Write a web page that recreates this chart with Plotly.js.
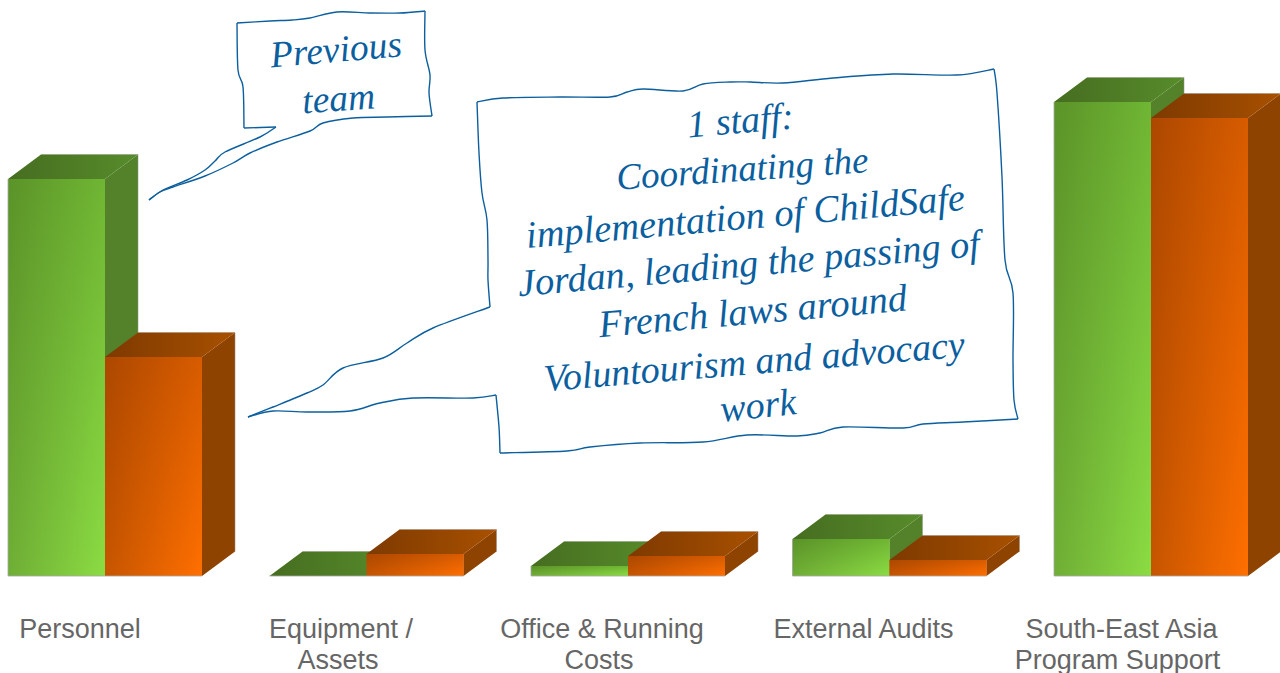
<!DOCTYPE html>
<html>
<head>
<meta charset="utf-8">
<script src="https://cdn.plot.ly/plotly-3.0.1.min.js"></script>
<style>html,body{margin:0;padding:0;background:#fff}#chart{width:1280px;height:673px}</style>
</head>
<body>
<div id="chart"></div>
<script>
// ---- data (heights) ----
const categories = ["Personnel", "Equipment /", "Office & Running", "External Audits", "South-East Asia"];
const categoriesLine2 = ["", "Assets", "Costs", "", "Program Support"];
const previousTeam = [397, 0, 10, 37, 474];
const currentTeam = [219, 22, 20, 16, 458];
const labelOffsets = [-0.0956, -0.0975, -0.0994, -0.0994, -0.113];
const labelOffsetsLine2 = [-0.0956, -0.1090, -0.1109, -0.0994, -0.128];

// ---- geometry of the fake 3D ----
const PX = 261.5, LEFT = 105, BAR = 97 / PX, DX = 33 / PX, DY = 24.5;
const PLOT_H = 610;
const idx = categories.map((_, i) => i);

const green = {base: "#79b83a", left: "#6fae35", right: "#8bdc43", topL: "#466d20", topR: "#578c2b", side: "#54822b", shade: "rgba(25,60,0,0.24)", clear: "rgba(25,60,0,0)", edge: "#8f9a85"};
const orange = {base: "#d95f00", left: "#c65500", right: "#ff6f00", topL: "#7e3a00", topR: "#a85000", side: "#8f4300", shade: "rgba(90,30,0,0.24)", clear: "rgba(90,30,0,0)", edge: "#a08c7c"};

const traces = [];
// real bars, through the library's scales
traces.push({type: "bar", name: "Previous", x: idx, y: previousTeam, width: BAR, marker: {color: green.base, line: {width: 0}}});
traces.push({type: "bar", name: "Current", x: idx, y: currentTeam, width: BAR, marker: {color: orange.base, line: {width: 0}}});

function poly(x, y, extra) {
  return Object.assign({type: "scatter", mode: "lines", x, y, fill: "toself", line: {width: 0}, hoverinfo: "skip", showlegend: false}, extra);
}
function addBar(i, h, side, c) {
  const x0 = i + (side < 0 ? -BAR : 0), x1 = x0 + BAR;
  // side face
  if (h > 0) traces.push(poly([x1, x1 + DX, x1 + DX, x1, x1], [0, DY, h + DY, h, 0], {fillcolor: c.side}));
  // top face
  traces.push(poly([x0, x0 + DX, x1 + DX, x1, x0], [h, h + DY, h + DY, h, h], {
    fillgradient: {type: "horizontal", colorscale: [[0, c.topL], [1, c.topR]], start: x0, stop: x1 + DX}
  }));
  // front face: horizontal light sweep plus a vertical shade
  if (h > 0) {
    traces.push(poly([x0, x1, x1, x0, x0], [0, 0, h, h, 0], {
      fillgradient: {type: "horizontal", colorscale: [[0, c.left], [1, c.right]], start: x0, stop: x1}
    }));
    traces.push(poly([x0, x1, x1, x0, x0], [0, 0, h, h, 0], {
      fillgradient: {type: "vertical", colorscale: [[0, c.shade], [1, c.clear]], start: h, stop: 0}
    }));
  }
  // thin grey rim along the back edge
  traces.push({type: "scatter", mode: "lines", x: [x0 + DX, x1 + DX, x1 + DX], y: [h + DY, h + DY, DY], line: {width: 1, color: c.edge}, opacity: 0.55, hoverinfo: "skip", showlegend: false});
}
idx.forEach(i => {
  addBar(i, previousTeam[i], -1, green);
  addBar(i, currentTeam[i], 1, orange);
  traces.push({type: "scatter", mode: "lines",
    x: [i - BAR, i - BAR, null, i - BAR, i + BAR], y: [previousTeam[i], 0, null, 0, 0],
    line: {width: 1, color: "#a8a8a8"}, opacity: 0.8, hoverinfo: "skip", showlegend: false});
});
// carrier for the axis holding the second line of the category labels
traces.push({type: "scatter", mode: "none", x: idx, y: currentTeam, xaxis: "x2", hoverinfo: "skip", showlegend: false});

// ---- hand-drawn callouts ----
function smooth(points) {
  let d = "";
  const P = points.map(p => [p[0] / 1280, 1 - p[1] / PLOT_H]);
  for (let i = 0; i < P.length - 1; i++) {
    const p0 = P[Math.max(i - 1, 0)], p1 = P[i], p2 = P[i + 1], p3 = P[Math.min(i + 2, P.length - 1)];
    const c1 = [p1[0] + (p2[0] - p0[0]) / 6, p1[1] + (p2[1] - p0[1]) / 6];
    const c2 = [p2[0] - (p3[0] - p1[0]) / 6, p2[1] - (p3[1] - p1[1]) / 6];
    d += (i === 0 ? "M" + p1[0] + "," + p1[1] : "") + " C" + c1 + " " + c2 + " " + p2;
  }
  return d;
}
const ink = "#0c5f9f";
const outlines = [
  // small balloon
  [[149,200],[163,190],[187,180],[205,170],[215,161],[225,152],[260,137],[276,127]],
  [[276,127],[244,128]],
  [[244,128],[243,87],[238,70],[237,23]],
  [[237,23],[270,21],[292,20],[310,18],[337,12],[370,13],[400,13],[425,11]],
  [[425,11],[425,50],[430,75],[429,93],[432,116]],
  [[432,116],[387,117],[353,118],[323,123],[310,131],[277,142],[250,153],[233,163],[205,176],[173,187],[160,192],[149,200]],
  // large balloon
  [[248,417],[273,407],[307,393],[323,385],[343,368],[383,358],[407,343],[433,328],[490,307]],
  [[490,307],[488,280],[488,260],[487,220],[482,193],[479,153],[477,102]],
  [[477,102],[503,98],[560,97],[610,97],[627,92],[643,89],[683,91],[703,84],[730,82],[750,82],[783,83],[833,78],[893,74],[957,75],[994,69]],
  [[994,69],[997,93],[1002,177],[1005,260],[1013,293],[1013,360],[1014,400],[1018,419]],
  [[1018,419],[963,422],[923,424],[903,428],[843,427],[820,433],[797,436],[747,435],[703,442],[640,443],[590,447],[567,451],[500,453]],
  [[500,453],[499,427],[496,395]],
  [[496,395],[473,398],[413,398],[380,403],[350,411],[307,412],[273,411],[248,417]]
];
const shapes = outlines.map(o => ({type: "path", xref: "paper", yref: "paper", path: smooth(o), line: {color: ink, width: 1.4}, layer: "above"}));

function note(text, cx, cy, angle, size) {
  return {xref: "paper", yref: "paper", x: cx / 1280, y: 1 - cy / PLOT_H, xanchor: "center", yanchor: "middle",
    text: "<i>" + text + "</i>", showarrow: false, textangle: angle,
    font: {family: "Liberation Serif", size: size, color: ink}};
}
const annotations = [
  note("Previous", 335, 50, -5, 37.5),
  note("team", 338, 98, -4, 37.5),
  note("1 staff:", 740, 120, -5, 38),
  note("Coordinating the", 742, 168, -4, 37),
  note("implementation of ChildSafe", 745, 216, -5, 38.5),
  note("Jordan, leading the passing of", 751, 263, -5, 38.3),
  note("French laws around", 752, 311, -5, 38.5),
  note("Voluntourism and advocacy", 754, 361, -4.7, 38),
  note("work", 758, 405, -6, 38)
];

const xRange = [-LEFT / PX, (1280 - LEFT) / PX];
const labelFont = {family: "Liberation Sans", size: 27, color: "#666666"};
const layout = {
  width: 1280, height: 673, margin: {l: 0, r: 0, t: 0, b: 63},
  paper_bgcolor: "#fff", plot_bgcolor: "#fff", showlegend: false, hovermode: false,
  barmode: "group", bargap: 1 - 2 * BAR, bargroupgap: 0,
  xaxis: {range: xRange, tickmode: "array",
    tickvals: idx.map(i => i + labelOffsets[i]), ticktext: categories, tickangle: 0,
    tickfont: labelFont, showgrid: false, zeroline: false, showline: false, ticks: "", fixedrange: true},
  xaxis2: {range: xRange, overlaying: "x", anchor: "y", side: "bottom", tickmode: "array",
    tickvals: idx.map(i => i + labelOffsetsLine2[i]), ticktext: categoriesLine2, tickangle: 0,
    tickfont: labelFont, ticklabelstandoff: 31, showgrid: false, zeroline: false, showline: false, ticks: "", fixedrange: true},
  yaxis: {range: [-34, 576], visible: false, fixedrange: true},
  shapes, annotations
};
Plotly.newPlot("chart", traces, layout, {displayModeBar: false, staticPlot: true});
</script>
</body>
</html>
